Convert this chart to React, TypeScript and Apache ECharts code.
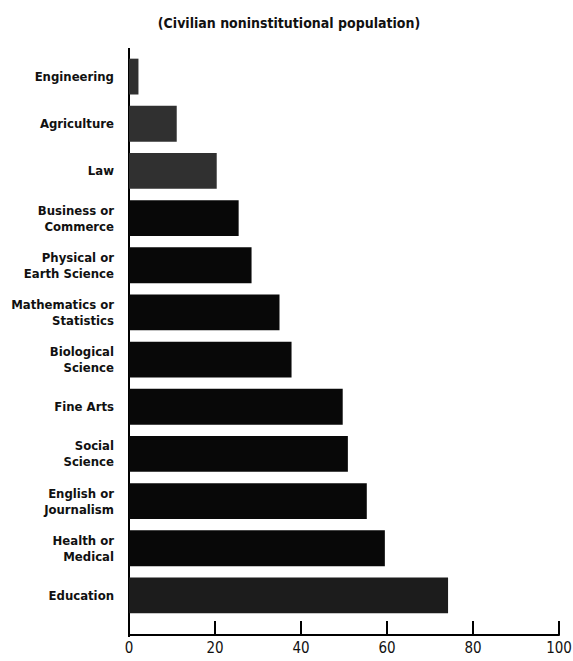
import React, { useEffect, useRef } from "react";
import * as echarts from "echarts";

const title = "(Civilian noninstitutional population)";
const categories = [
  "Engineering",
  "Agriculture",
  "Law",
  "Business or\nCommerce",
  "Physical or\nEarth Science",
  "Mathematics or\nStatistics",
  "Biological\nScience",
  "Fine Arts",
  "Social\nScience",
  "English or\nJournalism",
  "Health or\nMedical",
  "Education",
];
const values = [2.2, 11.1, 20.4, 25.5, 28.5, 35.0, 37.8, 49.7, 50.9, 55.3, 59.5, 74.2];
const xTicks = [0, 20, 40, 60, 80, 100];

const FONT = "'DejaVu Sans Condensed', 'Liberation Sans Narrow', sans-serif";

export default function App() {
  const ref = useRef<HTMLDivElement>(null);
  useEffect(() => {
    document.body.style.margin = "0";
    if (!ref.current) return;
    const chart = echarts.init(ref.current, null, { renderer: "svg" });
    const greyIdx = new Set([0, 1, 2]);
    chart.setOption({
      animation: false,
      backgroundColor: "#ffffff",
      title: {
        text: title,
        left: 284,
        top: 11,
        textAlign: "center",
        textStyle: { fontFamily: FONT, fontSize: 14, fontWeight: "bold", color: "#111" },
      },
      grid: { left: 129, right: 14, top: 53, bottom: 42, containLabel: false, outerBoundsMode: "none" },
      xAxis: {
        type: "value",
        min: xTicks[0],
        max: xTicks[xTicks.length - 1],
        interval: 20,
        offset: 16,
        axisLine: { show: true, lineStyle: { color: "#000", width: 2 } },
        axisTick: { show: true, inside: true, length: 14, lineStyle: { color: "#000", width: 2 } },
        axisLabel: { margin: 5, fontFamily: FONT, fontSize: 15, lineHeight: 15, color: "#111" },
        splitLine: { show: false },
      },
      yAxis: {
        type: "category",
        inverse: true,
        data: categories,
        axisLine: { show: false },
        axisTick: { show: false },
        axisLabel: {
          margin: 15,
          fontFamily: FONT,
          fontSize: 13,
          fontWeight: "bold",
          lineHeight: 16,
          color: "#111",
          align: "right",
        },
      },
      graphic: [
        {
          type: "line",
          shape: { x1: 129, y1: 48, x2: 129, y2: 637 },
          style: { stroke: "#000", lineWidth: 2 },
        },
      ],
      series: [
        {
          type: "bar",
          data: values,
          barCategoryGap: "24%",
          itemStyle: {
            color: (p: any) => (greyIdx.has(p.dataIndex) ? "#303030" : p.dataIndex === 11 ? "#1c1c1c" : "#080808"),
          },
        },
      ],
    });
    return () => chart.dispose();
  }, []);
  return <div ref={ref} style={{ width: 573, height: 661 }} />;
}
